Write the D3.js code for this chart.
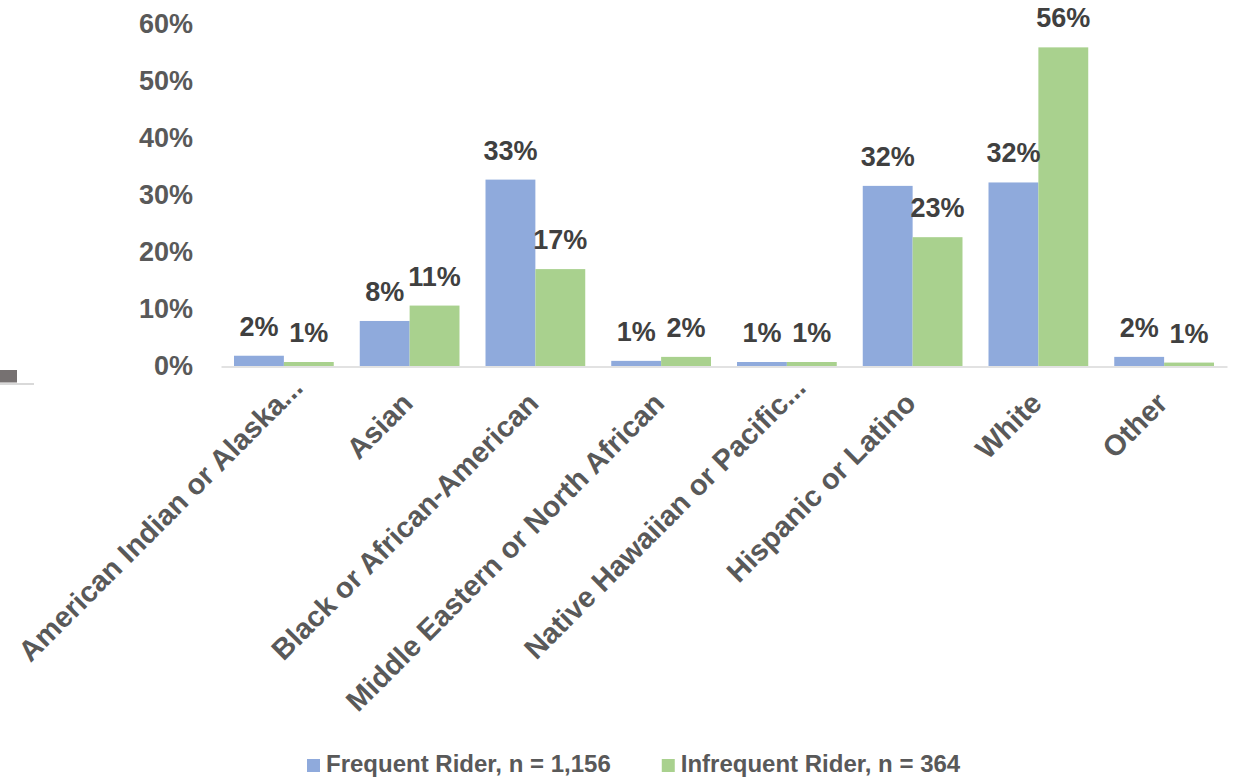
<!DOCTYPE html>
<html>
<head>
<meta charset="utf-8">
<script src="https://cdn.jsdelivr.net/npm/d3@7"></script>
<style>
  html, body { margin: 0; padding: 0; background: #ffffff; }
  svg { display: block; font-family: "Liberation Sans", Arial, Helvetica, sans-serif; }
</style>
</head>
<body>
<svg id="chart" width="1245" height="780"></svg>
<script>
// Rider race / ethnicity shares, frequent vs. infrequent riders
const categories = [
  "American Indian or Alaska...",
  "Asian",
  "Black or African-American",
  "Middle Eastern or North African",
  "Native Hawaiian or Pacific...",
  "Hispanic or Latino",
  "White",
  "Other"
];
const seriesNames = ["Frequent Rider, n = 1,156", "Infrequent Rider, n = 364"];
const frequentValues   = [0.018, 0.079, 0.327, 0.009, 0.007, 0.316, 0.322, 0.016];
const infrequentValues = [0.007, 0.106, 0.170, 0.016, 0.007, 0.226, 0.559, 0.006];
const yTicks = [0, 0.1, 0.2, 0.3, 0.4, 0.5, 0.6];
const seriesColors = ["#8faadc", "#a9d18e"];

const svg = d3.select("#chart");
const W = 1245, H = 780;
const plot = { left: 221, right: 1227, top: 24, bottom: 366 };

svg.append("rect").attr("width", W).attr("height", H).attr("fill", "#ffffff");

const x = d3.scaleBand()
  .domain(categories)
  .range([plot.left, plot.right])
  .paddingInner(0.2068)
  .paddingOuter(0.1034);

const xSub = d3.scaleBand()
  .domain(d3.range(seriesNames.length))
  .range([0, x.bandwidth()])
  .padding(0);

const y = d3.scaleLinear()
  .domain([0, 0.6])
  .range([plot.bottom, plot.top]);

const rows = categories.map((c, i) => ({
  category: c,
  values: [frequentValues[i], infrequentValues[i]]
}));

// Y axis: labels only, no line or ticks
const yAxis = svg.append("g")
  .attr("transform", `translate(${plot.left - 28},0)`)
  .call(d3.axisLeft(y).tickValues(yTicks).tickFormat(d3.format(".0%")).tickSize(0).tickPadding(0));
yAxis.select(".domain").remove();
yAxis.selectAll("text")
  .attr("fill", "#595959")
  .style("font-size", "27px")
  .style("font-weight", "bold")
  .style("font-family", "'Liberation Sans', Arial, sans-serif");

// Bars
const groups = svg.append("g").selectAll("g")
  .data(rows)
  .join("g")
  .attr("transform", d => `translate(${x(d.category)},0)`);

groups.selectAll("rect")
  .data(d => d.values.map((v, k) => ({ v, k })))
  .join("rect")
  .attr("x", d => xSub(d.k))
  .attr("width", xSub.bandwidth())
  .attr("y", d => y(d.v))
  .attr("height", d => y(0) - y(d.v))
  .attr("fill", d => seriesColors[d.k]);

// X axis baseline
const xAxis = svg.append("g")
  .attr("transform", `translate(0,${plot.bottom + 0.5})`)
  .call(d3.axisBottom(x).tickSize(0).tickFormat(""));
xAxis.select(".domain").attr("stroke", "#d9d9d9").attr("stroke-width", 1.5);

// Data labels
const pct = d3.format(".0%");
groups.selectAll("text.value")
  .data(d => d.values.map((v, k) => ({ v, k })))
  .join("text")
  .attr("class", "value")
  .attr("x", d => xSub(d.k) + xSub.bandwidth() / 2)
  .attr("y", d => y(d.v) - 20)
  .attr("text-anchor", "middle")
  .attr("fill", "#404040")
  .style("font-size", "27px")
  .style("font-weight", "bold")
  .text(d => pct(d.v));

// Rotated category labels
svg.append("g").selectAll("text")
  .data(categories)
  .join("text")
  .attr("transform", d => `translate(${x(d) + x.bandwidth() / 2 + 5},405) rotate(-45)`)
  .attr("dx", d => d.endsWith("...") ? 22 : 0)
  .attr("text-anchor", "end")
  .attr("fill", "#595959")
  .style("font-size", "29px")
  .style("font-weight", "bold")
  .text(d => d);

// Small marker at the left edge
svg.append("rect").attr("x", 0).attr("y", 370).attr("width", 17).attr("height", 12.5).attr("fill", "#767171");
svg.append("line").attr("x1", 0).attr("x2", 34).attr("y1", 384).attr("y2", 384)
  .attr("stroke", "#d9d9d9").attr("stroke-width", 2);

// Legend
const legend = svg.append("g");
let lx = 307;
seriesNames.forEach((name, k) => {
  const item = legend.append("g").attr("transform", `translate(${lx},0)`);
  item.append("rect").attr("x", 0).attr("y", 759).attr("width", 13).attr("height", 13).attr("fill", seriesColors[k]);
  const t = item.append("text")
    .attr("x", 19).attr("y", 772)
    .attr("fill", "#595959")
    .style("font-size", "24px")
    .style("font-weight", "bold")
    .text(name);
  lx += 19 + t.node().getComputedTextLength() + 51;
});
</script>
</body>
</html>
